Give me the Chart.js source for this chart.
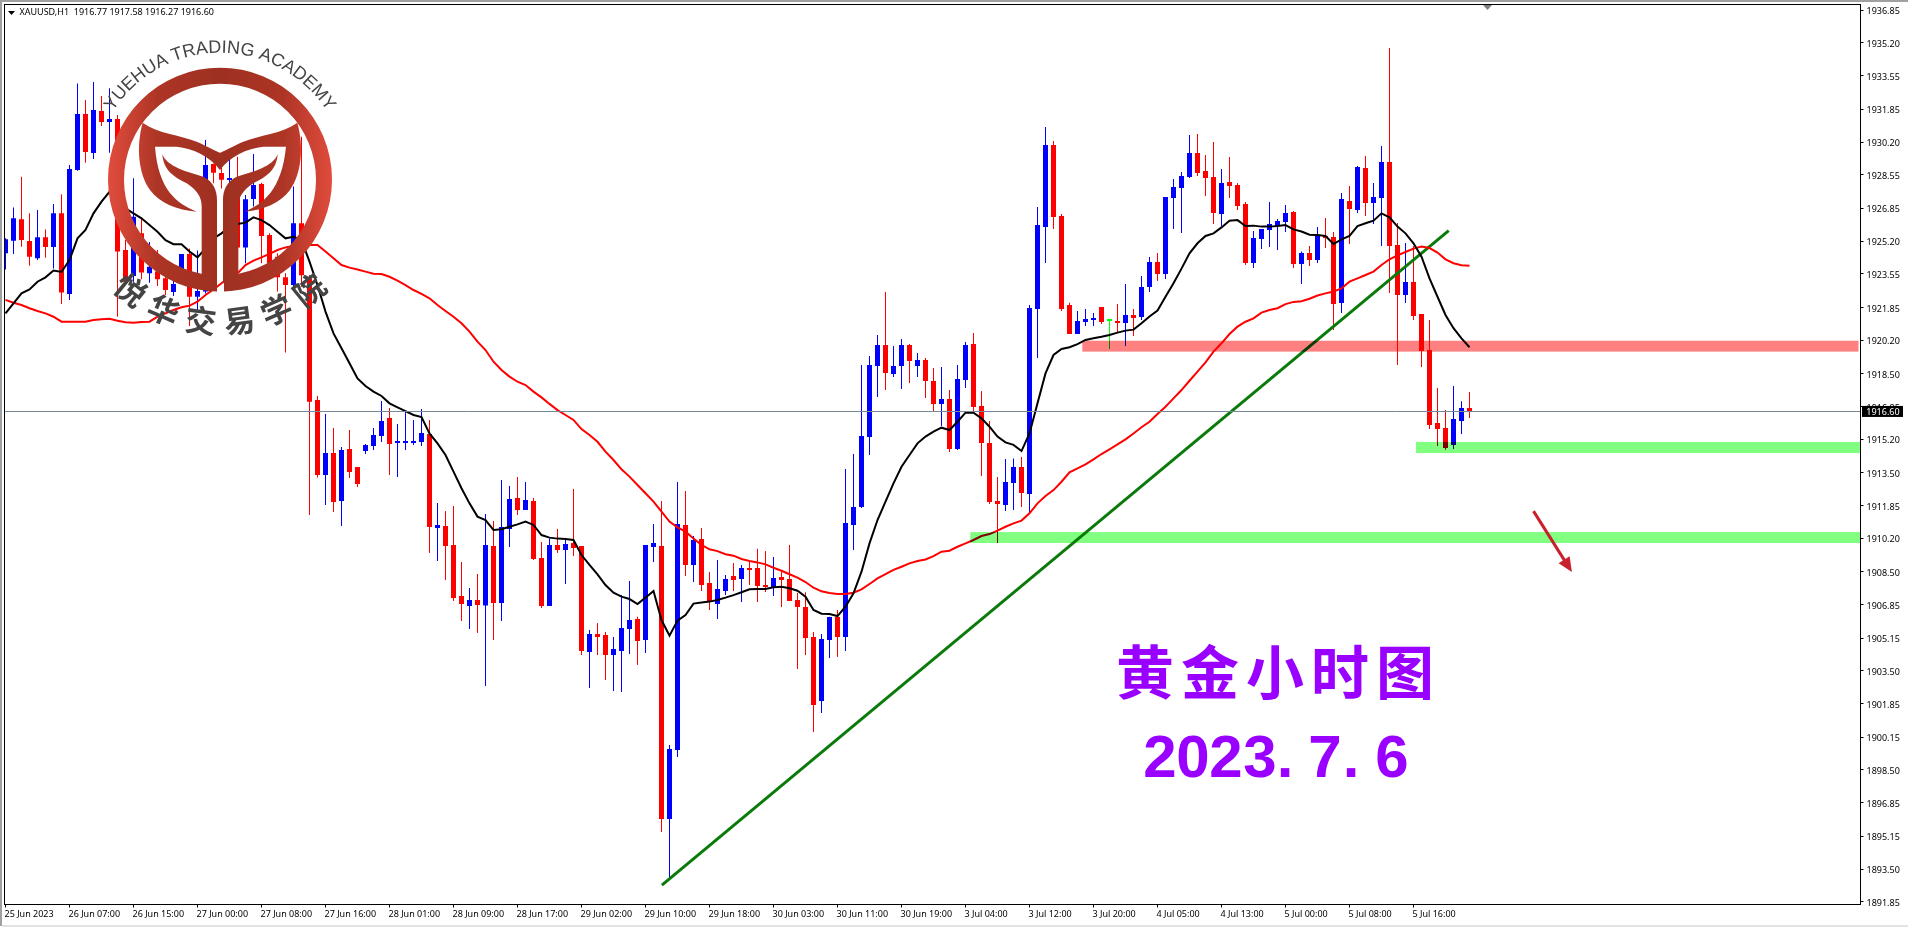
<!DOCTYPE html>
<html>
<head>
<meta charset="utf-8">
<title>XAUUSD,H1</title>
<style>
  html, body { margin: 0; padding: 0; background: #fff; overflow: hidden; }
  canvas { display: block; }
</style>
</head>
<body>
<canvas id="chart" width="1908" height="927"></canvas>
<script src="https://cdn.jsdelivr.net/npm/chart.js@4/dist/chart.umd.js"></script>
<script>
// price axis labels and time labels (one label every 8 bars)
const priceTicks = [1891.85,1893.50,1895.15,1896.85,1898.50,1900.15,1901.85,1903.50,1905.15,1906.85,1908.50,1910.20,1911.85,1913.50,1915.20,1916.85,1918.50,1920.20,1921.85,1923.55,1925.20,1926.85,1928.55,1930.20,1931.85,1933.55,1935.20,1936.85];
const timeLabels = ['25 Jun 2023','26 Jun 07:00','26 Jun 15:00','27 Jun 00:00','27 Jun 08:00','27 Jun 16:00','28 Jun 01:00','28 Jun 09:00','28 Jun 17:00','29 Jun 02:00','29 Jun 10:00','29 Jun 18:00','30 Jun 03:00','30 Jun 11:00','30 Jun 19:00','3 Jul 04:00','3 Jul 12:00','3 Jul 20:00','4 Jul 05:00','4 Jul 13:00','5 Jul 00:00','5 Jul 08:00','5 Jul 16:00'];
const lastPrice = 1916.60;

// candles
const openP = [
1924.58,1925.22,1926.30,1925.20,1924.33,1925.39,1924.90,1926.60,1922.53,1928.79,
1931.62,1929.65,1931.77,1931.21,1931.36,1924.75,1923.44,1925.59,1923.57,1923.66,
1923.32,1922.63,1923.74,1924.55,1922.39,1922.65,1929.09,1928.64,1928.28,1928.37,
1924.87,1927.33,1928.08,1925.51,1924.41,1923.37,1922.98,1926.10,1923.32,1917.18,
1913.39,1914.50,1912.08,1914.70,1913.80,1914.60,1914.86,1915.36,1916.27,1915.01,
1915.01,1915.01,1915.06,1915.46,1910.72,1910.82,1909.86,1907.28,1906.78,1907.08,
1906.80,1909.81,1906.93,1910.67,1912.23,1911.62,1912.08,1909.20,1906.78,1909.86,
1909.61,1909.96,1909.81,1904.46,1905.36,1905.31,1904.30,1904.51,1905.62,1906.12,
1905.06,1909.76,1909.81,1896.03,1899.51,1910.87,1908.85,1910.16,1907.94,1906.88,
1907.54,1908.29,1908.14,1908.70,1908.70,1907.84,1907.74,1908.24,1908.14,1907.08,
1906.73,1905.21,1901.98,1905.06,1906.22,1905.21,1910.87,1911.78,1915.31,1918.89,
1919.95,1918.49,1918.89,1919.95,1918.89,1919.20,1918.14,1916.98,1917.23,1914.70,
1918.19,1920.00,1916.87,1915.01,1912.08,1911.88,1912.99,1913.79,1912.43,1921.77,
1925.91,1930.05,1926.47,1921.97,1920.51,1921.12,1921.22,1921.87,1921.17,1921.17,
1921.07,1921.47,1921.37,1922.88,1924.14,1923.54,1927.37,1927.88,1928.44,1929.65,
1928.74,1928.44,1926.57,1928.18,1928.03,1927.07,1924.09,1925.31,1925.76,1925.96,
1926.16,1926.67,1924.04,1924.60,1924.25,1925.46,1925.41,1922.07,1927.22,1926.77,
1928.89,1927.12,1927.38,1929.19,1925.00,1922.48,1923.14,1921.52,1919.70,1916.02,
1915.76,1914.91,1916.12,1916.77];
const highP = [
1925.34,1926.90,1928.45,1926.60,1926.77,1925.79,1927.07,1927.56,1929.04,1933.16,
1932.32,1933.23,1932.52,1932.91,1931.56,1925.25,1928.37,1926.40,1925.15,1924.75,
1924.08,1923.74,1924.55,1924.83,1924.72,1930.30,1929.12,1929.12,1929.46,1929.46,
1927.53,1929.60,1928.15,1925.59,1924.58,1923.57,1927.95,1930.47,1923.49,1917.38,
1916.47,1915.76,1914.80,1915.66,1913.80,1914.96,1915.76,1917.13,1916.77,1915.97,
1916.62,1916.17,1916.72,1916.17,1911.98,1911.58,1911.83,1909.00,1907.69,1908.39,
1911.42,1911.07,1913.14,1912.84,1913.29,1913.04,1912.23,1910.01,1910.19,1910.66,
1910.11,1912.68,1909.81,1905.57,1905.92,1905.46,1905.21,1907.33,1908.04,1906.24,
1909.86,1910.92,1912.08,1899.76,1913.04,1912.58,1910.31,1910.72,1908.49,1909.10,
1908.34,1908.95,1908.85,1909.10,1909.67,1909.55,1909.25,1908.49,1909.86,1907.43,
1907.47,1905.46,1905.36,1906.24,1906.58,1913.69,1914.45,1918.94,1919.40,1920.46,
1922.63,1919.90,1920.26,1920.00,1919.55,1919.30,1918.79,1918.84,1917.68,1918.94,
1920.11,1920.56,1917.63,1916.12,1913.29,1914.20,1914.23,1914.30,1921.97,1926.92,
1930.96,1930.25,1926.57,1922.09,1921.67,1921.77,1921.57,1921.87,1921.27,1922.02,
1923.03,1921.77,1923.44,1924.40,1924.60,1927.43,1928.33,1928.69,1930.55,1930.60,
1929.55,1930.20,1928.84,1929.45,1928.13,1927.17,1925.71,1925.81,1927.17,1926.31,
1927.02,1926.72,1924.67,1924.95,1925.91,1926.37,1925.66,1927.63,1927.98,1928.99,
1929.50,1928.13,1930.00,1934.95,1926.11,1925.10,1924.95,1921.52,1921.22,1917.78,
1916.67,1917.88,1917.12,1917.58];
const lowP = [
1923.77,1924.55,1924.92,1923.96,1924.24,1924.36,1923.82,1922.02,1922.23,1928.75,
1929.16,1929.34,1931.01,1929.66,1921.38,1922.98,1923.15,1923.27,1923.10,1922.93,
1922.48,1922.43,1923.24,1920.91,1921.64,1922.56,1928.12,1927.86,1927.27,1924.60,
1924.08,1926.94,1924.08,1923.66,1922.65,1919.57,1922.90,1922.90,1911.37,1913.26,
1911.88,1911.52,1910.82,1913.24,1912.79,1914.45,1914.65,1915.06,1913.39,1913.29,
1914.65,1914.91,1914.86,1909.45,1909.05,1908.09,1907.03,1906.02,1905.62,1905.42,
1902.74,1905.06,1906.02,1909.76,1911.37,1911.62,1909.10,1906.68,1906.78,1909.45,
1907.89,1909.30,1904.30,1902.64,1904.30,1903.04,1902.49,1902.44,1904.36,1903.80,
1904.41,1909.00,1895.37,1893.03,1899.16,1908.29,1907.99,1907.54,1906.58,1906.12,
1907.33,1907.54,1906.98,1907.84,1906.98,1907.48,1907.28,1906.73,1907.03,1903.60,
1904.30,1900.42,1901.38,1904.15,1904.20,1904.51,1909.60,1911.73,1914.40,1917.33,
1917.68,1918.34,1917.73,1918.04,1918.34,1917.28,1916.62,1915.87,1914.55,1914.65,
1917.78,1916.57,1913.34,1911.93,1909.96,1911.57,1911.62,1911.78,1911.52,1919.30,
1924.09,1925.81,1921.67,1920.51,1920.51,1920.91,1920.91,1921.01,1919.75,1920.61,
1919.90,1920.41,1921.22,1922.63,1923.18,1923.28,1925.81,1925.61,1928.38,1928.49,
1927.48,1926.06,1925.96,1927.38,1926.77,1923.99,1923.84,1924.80,1924.90,1924.75,
1925.66,1923.84,1923.03,1923.94,1924.09,1924.85,1920.71,1921.57,1925.05,1926.62,
1926.47,1926.06,1924.95,1922.58,1918.95,1922.07,1921.22,1918.84,1915.71,1914.86,
1914.66,1914.71,1915.46,1916.27];
const closeP = [
1925.29,1926.35,1925.25,1924.41,1925.39,1924.90,1926.60,1922.60,1928.84,1931.62,
1929.70,1931.82,1931.21,1931.36,1924.67,1923.15,1926.43,1923.61,1923.91,1923.27,
1922.73,1923.03,1924.55,1922.39,1922.68,1929.04,1928.65,1928.30,1928.37,1924.87,
1927.31,1928.03,1925.46,1924.08,1923.37,1922.98,1926.10,1923.47,1917.09,1913.39,
1914.50,1912.03,1914.65,1913.54,1912.94,1914.91,1915.41,1916.12,1914.96,1915.06,
1915.11,1915.11,1915.51,1910.77,1910.87,1909.81,1907.18,1906.88,1907.08,1906.83,
1909.86,1906.93,1910.77,1912.18,1911.62,1912.13,1909.15,1906.78,1909.86,1909.61,
1909.91,1909.71,1904.51,1905.36,1905.21,1904.30,1904.61,1905.67,1906.07,1905.01,
1909.86,1909.96,1896.03,1899.56,1910.92,1908.85,1910.11,1907.84,1906.98,1907.64,
1908.14,1908.09,1908.70,1908.60,1907.79,1907.74,1908.19,1908.09,1907.03,1906.73,
1905.16,1901.78,1905.11,1906.22,1905.21,1910.97,1911.78,1915.36,1918.94,1919.95,
1918.54,1918.89,1919.95,1919.15,1919.20,1918.14,1916.98,1917.23,1914.70,1918.24,
1919.95,1916.82,1915.01,1912.03,1911.93,1913.04,1913.79,1912.48,1921.82,1926.01,
1930.05,1926.42,1921.77,1920.51,1921.17,1921.27,1921.27,1921.12,1921.17,1921.07,
1921.47,1921.32,1922.88,1924.14,1923.54,1927.43,1927.93,1928.49,1929.65,1928.64,
1928.38,1926.62,1928.13,1927.98,1926.97,1924.09,1925.36,1925.81,1926.06,1926.21,
1926.62,1924.04,1924.60,1924.25,1925.46,1925.36,1922.02,1927.32,1926.82,1928.94,
1927.12,1927.43,1929.19,1924.95,1922.48,1923.14,1921.42,1919.65,1915.92,1915.71,
1914.76,1916.22,1916.77,1916.60];

// fast (black) and slow (red) averages
const maBlack = [
1921.55,1922.06,1922.56,1922.76,1923.15,1923.37,1923.71,1923.64,1924.24,1925.34,
1925.76,1926.60,1927.19,1927.69,1927.44,1926.85,1926.60,1926.35,1926.01,1925.67,
1925.25,1925.04,1925.04,1924.67,1924.38,1924.83,1925.34,1925.59,1925.93,1926.06,
1926.13,1926.40,1926.26,1926.01,1925.67,1925.34,1925.42,1925.25,1924.16,1922.98,
1921.64,1920.54,1919.79,1919.03,1918.27,1917.88,1917.60,1917.38,1917.01,1916.81,
1916.62,1916.42,1916.32,1915.49,1914.99,1914.40,1913.56,1912.72,1911.96,1911.29,
1911.12,1910.62,1910.65,1910.78,1910.90,1911.04,1910.87,1910.36,1910.23,1910.18,
1910.16,1910.11,1909.35,1908.85,1908.38,1907.84,1907.45,1907.25,1907.13,1906.88,
1907.20,1907.54,1906.07,1905.28,1906.04,1906.32,1906.90,1906.96,1907.00,1907.08,
1907.20,1907.33,1907.47,1907.62,1907.64,1907.64,1907.72,1907.75,1907.67,1907.55,
1907.25,1906.58,1906.39,1906.37,1906.27,1906.74,1907.42,1908.51,1909.94,1911.12,
1912.05,1912.97,1913.81,1914.40,1914.99,1915.33,1915.58,1915.78,1915.66,1916.08,
1916.54,1916.54,1916.25,1915.83,1915.33,1915.04,1914.91,1914.60,1915.49,1917.01,
1918.52,1919.45,1919.75,1919.84,1920.00,1920.21,1920.29,1920.37,1920.46,1920.58,
1920.68,1920.73,1921.05,1921.39,1921.69,1922.39,1923.07,1923.81,1924.58,1925.09,
1925.46,1925.59,1925.89,1926.23,1926.26,1925.96,1925.98,1925.93,1925.93,1925.96,
1926.01,1925.79,1925.68,1925.52,1925.51,1925.46,1925.05,1925.29,1925.46,1925.96,
1926.10,1926.23,1926.60,1926.40,1925.93,1925.59,1925.09,1924.41,1923.32,1922.39,
1921.47,1920.80,1920.29,1919.84];
const maRed = [
1922.23,1922.09,1921.97,1921.81,1921.67,1921.55,1921.38,1921.13,1921.13,1921.13,
1921.13,1921.22,1921.25,1921.28,1921.18,1921.10,1921.08,1921.12,1921.13,1921.38,
1921.55,1921.72,1921.86,1921.94,1922.14,1922.48,1922.76,1923.07,1923.40,1923.57,
1923.99,1924.21,1924.38,1924.55,1924.75,1924.88,1924.95,1925.00,1925.00,1925.00,
1924.67,1924.33,1923.99,1923.86,1923.77,1923.66,1923.55,1923.54,1923.40,1923.20,
1922.98,1922.73,1922.53,1922.31,1921.97,1921.67,1921.38,1921.05,1920.63,1920.12,
1919.70,1919.11,1918.69,1918.36,1918.10,1917.93,1917.60,1917.31,1916.98,1916.67,
1916.42,1916.17,1915.71,1915.41,1915.07,1914.57,1914.15,1913.68,1913.31,1912.89,
1912.47,1912.05,1911.54,1911.04,1910.75,1910.53,1910.19,1909.86,1909.64,1909.55,
1909.39,1909.32,1909.15,1909.05,1908.98,1908.88,1908.71,1908.56,1908.38,1908.21,
1907.99,1907.70,1907.52,1907.43,1907.38,1907.38,1907.45,1907.62,1907.89,1908.17,
1908.39,1908.60,1908.76,1908.93,1909.05,1909.13,1909.30,1909.52,1909.57,1909.77,
1909.94,1910.11,1910.31,1910.41,1910.58,1910.78,1910.95,1911.09,1911.46,1911.96,
1912.33,1912.63,1913.05,1913.53,1913.73,1913.93,1914.18,1914.45,1914.69,1914.94,
1915.19,1915.49,1915.80,1916.08,1916.47,1916.84,1917.26,1917.68,1918.15,1918.61,
1919.08,1919.62,1920.04,1920.51,1920.88,1921.13,1921.30,1921.59,1921.72,1921.81,
1922.02,1922.13,1922.16,1922.29,1922.45,1922.56,1922.65,1922.81,1923.15,1923.32,
1923.49,1923.66,1923.99,1924.28,1924.48,1924.65,1924.82,1924.92,1924.85,1924.62,
1924.28,1924.08,1923.98,1923.96];

// trend line and the arrow (bar position, price)
const trendX = [82.05, 180.4];
const trendY = [1892.69, 1925.73];
const arrowX = [191, 195.8];
const arrowY = [1911.57, 1908.49];

// pink / green zones: first bar, top price, bottom price
const zoneStart = [134.6, 176.3, 120.6];
const zoneTop = [1920.17, 1915.06, 1910.51];
const zoneBottom = [1919.62, 1914.50, 1909.96];
const zoneColor = ['#ff8080', '#80ff80', '#80ff80'];

const bars = openP.map((v, i) => i);
const smallFont = '"Noto Sans", sans-serif';
const barColor = i => closeP[i] > openP[i] ? '#0000ff' : (closeP[i] < openP[i] ? '#ff0000' : '#00ff00');

// the academy logo sits on top of the candles, coords are 3x page pixels
function drawLogo(ctx) {
  ctx.save();
  ctx.scale(1 / 3, 1 / 3);
  const grad = ctx.createLinearGradient(324, 0, 998, 0);
  grad.addColorStop(0, '#e14c3d');
  grad.addColorStop(0.22, '#ad3525');
  grad.addColorStop(0.5, '#9e3021');
  grad.addColorStop(0.78, '#ad3525');
  grad.addColorStop(1, '#e14c3d');
  ctx.fillStyle = grad;

  ctx.save();
  const cut = new Path2D();
  cut.rect(0, 0, 1500, 1500);
  cut.rect(651, 590, 21, 400);
  ctx.clip(cut, 'evenodd');
  ctx.beginPath();
  ctx.arc(660, 539, 336, 0, Math.PI * 2);
  ctx.arc(660, 539, 288, 0, Math.PI * 2, true);
  ctx.fill();
  ctx.restore();

  const horns = new Path2D('M428,368 C470,400 540,405 590,425 C625,440 650,455 660,458 C670,455 695,440 730,425 C780,405 850,400 892,368 C912,440 905,520 870,570 C840,610 790,630 735,635 C790,610 845,570 858,440 L790,440 C740,445 690,470 660,510 C630,470 580,445 530,440 L465,440 C475,570 530,610 590,635 C530,630 480,610 450,570 C415,520 408,440 428,368 Z');
  ctx.fill(horns);
  const stem = new Path2D('M487,462 C500,500 560,515 610,530 C640,545 651,570 651,600 L651,850 L605,835 L605,620 C605,590 590,570 560,550 C520,530 490,510 487,462 Z');
  ctx.fill(stem);
  ctx.translate(1320, 0);
  ctx.scale(-1, 1);
  ctx.fill(stem);
  ctx.restore();

  // curved texts
  ctx.save();
  ctx.fillStyle = '#444';
  ctx.textAlign = 'center';
  ctx.textBaseline = 'alphabetic';
  ctx.font = '18px "Liberation Sans"';
  const name = 'YUEHUA TRADING ACADEMY';
  const total = ctx.measureText(name).width;
  const R = 127;
  let run = 0;
  for (const ch of name) {
    const w = ctx.measureText(ch).width;
    const a = (run + w / 2 - total / 2) / R;
    ctx.save();
    ctx.translate(220 + R * Math.sin(a), 179.7 - R * Math.cos(a));
    ctx.rotate(a);
    ctx.fillText(ch, 0, 0);
    ctx.restore();
    run += w;
  }
  ctx.font = 'bold 31px "Noto Sans CJK SC"';
  ctx.textBaseline = 'middle';
  const cn = '悦华交易学院';
  [...cn].forEach((ch, k) => {
    const a = (2.5 - k) * 15.6 * Math.PI / 180;
    ctx.save();
    ctx.translate(220 - 142 * Math.sin(a), 179.7 + 142 * Math.cos(a));
    ctx.rotate(a);
    ctx.fillText(ch, 0, 0);
    ctx.restore();
  });
  ctx.restore();
}

const overlay = {
  id: 'overlay',
  beforeDraw(chart) {
    const ctx = chart.ctx;
    ctx.save();
    ctx.fillStyle = '#fff';
    ctx.fillRect(0, 0, chart.width, chart.height);
    ctx.restore();
  },
  afterDatasetsDraw(chart) {
    const ctx = chart.ctx, x = chart.scales.x, y = chart.scales.y, area = chart.chartArea;
    ctx.save();
    ctx.beginPath();
    ctx.rect(area.left, area.top, area.right - area.left, area.bottom - area.top);
    ctx.clip();

    // zones multiply over whatever is below them
    ctx.globalCompositeOperation = 'multiply';
    zoneStart.forEach((s, k) => {
      const left = x.getPixelForValue(s), top = y.getPixelForValue(zoneTop[k]);
      ctx.fillStyle = zoneColor[k];
      ctx.fillRect(left, top, area.right - left - (k === 0 ? 2 : 0), y.getPixelForValue(zoneBottom[k]) - top);
    });
    ctx.globalCompositeOperation = 'source-over';

    // current price line
    const py = Math.round(y.getPixelForValue(lastPrice)) + 0.5;
    ctx.strokeStyle = '#778899';
    ctx.lineWidth = 1;
    ctx.beginPath();
    ctx.moveTo(area.left, py);
    ctx.lineTo(area.right, py);
    ctx.stroke();

    // arrow
    const ax0 = x.getPixelForValue(arrowX[0]), ay0 = y.getPixelForValue(arrowY[0]);
    const ax1 = x.getPixelForValue(arrowX[1]), ay1 = y.getPixelForValue(arrowY[1]);
    const ang = Math.atan2(ay1 - ay0, ax1 - ax0);
    ctx.strokeStyle = ctx.fillStyle = '#c8202c';
    ctx.lineWidth = 3;
    ctx.beginPath();
    ctx.moveTo(ax0, ay0);
    ctx.lineTo(ax1 - 8 * Math.cos(ang), ay1 - 8 * Math.sin(ang));
    ctx.stroke();
    ctx.beginPath();
    ctx.moveTo(ax1, ay1);
    ctx.lineTo(ax1 - 16 * Math.cos(ang - 0.42), ay1 - 16 * Math.sin(ang - 0.42));
    ctx.lineTo(ax1 - 16 * Math.cos(ang + 0.42), ay1 - 16 * Math.sin(ang + 0.42));
    ctx.closePath();
    ctx.fill();
    ctx.restore();

    drawLogo(ctx);

    // big purple caption
    ctx.save();
    ctx.fillStyle = '#9900ff';
    ctx.textAlign = 'center';
    ctx.textBaseline = 'middle';
    ctx.font = 'bold 58px "Noto Sans CJK SC"';
    [...'黄金小时图'].forEach((ch, k) => ctx.fillText(ch, 1145 + 65 * k, 672));
    ctx.textBaseline = 'alphabetic';
    ctx.font = 'bold 60px "Liberation Sans"';
    const dateX = [1160, 1193, 1226, 1260, 1285, 1325, 1351, 1392];
    [...'2023.7.6'].forEach((ch, k) => ctx.fillText(ch, dateX[k], 777));
    ctx.restore();
  },
  afterDraw(chart) {
    const ctx = chart.ctx, y = chart.scales.y, area = chart.chartArea;
    ctx.save();
    // window edges
    ctx.fillStyle = '#a0a0a0';
    ctx.fillRect(0, 0, chart.width, 2);
    ctx.fillRect(0, 0, 2, 926);
    ctx.fillStyle = '#e2e2e2';
    ctx.fillRect(2, 925, chart.width - 2, 2);

    // chart frame
    ctx.strokeStyle = '#000';
    ctx.lineWidth = 1;
    ctx.strokeRect(area.left, area.top, area.right - area.left, area.bottom - area.top);

    // header with symbol and last bar values
    ctx.fillStyle = '#000';
    ctx.beginPath();
    ctx.moveTo(8, 11);
    ctx.lineTo(15, 11);
    ctx.lineTo(11.5, 15);
    ctx.closePath();
    ctx.fill();
    const last = openP.length - 1;
    ctx.font = '9px ' + smallFont;
    ctx.textBaseline = 'middle';
    ctx.textAlign = 'left';
    ctx.fillText('XAUUSD,H1  ' + [openP[last], highP[last], lowP[last], closeP[last]].map(v => v.toFixed(2)).join(' '), 19.5, 12.5);

    // chart shift marker
    ctx.fillStyle = '#808080';
    ctx.beginPath();
    ctx.moveTo(1483, 5);
    ctx.lineTo(1492, 5);
    ctx.lineTo(1487.5, 10);
    ctx.closePath();
    ctx.fill();

    // price tag
    const py = y.getPixelForValue(lastPrice);
    ctx.fillStyle = '#000';
    ctx.fillRect(1862, py - 5.5, 41, 11);
    ctx.fillStyle = '#fff';
    ctx.fillText(lastPrice.toFixed(2), 1866.3, py + 0.5);
    ctx.restore();
  }
};

new Chart(document.getElementById('chart'), {
  type: 'bar',
  plugins: [overlay],
  data: {
    datasets: [
      { type: 'line', data: bars.map(i => ({ x: i, y: maBlack[i] })), borderColor: '#000', borderWidth: 2, pointRadius: 0, tension: 0, order: 1 },
      { type: 'line', data: bars.map(i => ({ x: i, y: maRed[i] })), borderColor: '#ff0000', borderWidth: 2, pointRadius: 0, tension: 0, order: 1 },
      { type: 'line', data: trendX.map((v, k) => ({ x: v, y: trendY[k] })), borderColor: '#0a7a0a', borderWidth: 3, pointRadius: 0, tension: 0, order: 1 },
      { data: bars.map(i => ({ x: i, y: [openP[i], closeP[i]] })), backgroundColor: bars.map(barColor), barThickness: 5, minBarLength: 2, inflateAmount: 0, grouped: false, order: 2 },
      { data: bars.map(i => ({ x: i, y: [lowP[i], highP[i]] })), backgroundColor: bars.map(barColor), barThickness: 1, inflateAmount: 0, grouped: false, order: 3 }
    ]
  },
  options: {
    responsive: false,
    animation: false,
    devicePixelRatio: 1,
    layout: { padding: { left: 4.5, top: 4.5, right: 0, bottom: 0 } },
    plugins: { legend: { display: false }, tooltip: { enabled: false } },
    scales: {
      x: {
        type: 'linear',
        offset: false,
        min: -0.125,
        max: 231.875,
        grid: { drawOnChartArea: false, offset: false, color: '#000', tickLength: 3 },
        border: { display: false },
        afterFit(scale) { scale.height = 22.5; scale.paddingLeft = 0; scale.paddingRight = 0; },
        afterBuildTicks(scale) { scale.ticks = timeLabels.map((t, k) => ({ value: k * 8 })); },
        ticks: {
          align: 'start',
          autoSkip: false,
          maxRotation: 0,
          padding: 2,
          labelOffset: -1,
          color: '#000',
          font: { family: smallFont, size: 9 },
          callback: (v) => timeLabels[v / 8]
        }
      },
      y: {
        position: 'right',
        min: 1891.71,
        max: 1937.143,
        grid: { drawOnChartArea: false, color: '#000', tickLength: 3 },
        border: { display: false },
        afterFit(scale) { scale.width = 47.5; scale.paddingTop = 0; scale.paddingBottom = 0; },
        afterBuildTicks(scale) { scale.ticks = priceTicks.map(v => ({ value: v })); },
        ticks: {
          autoSkip: false,
          padding: 3,
          labelOffset: 1.5,
          color: '#000',
          font: { family: smallFont, size: 9 },
          callback: v => v.toFixed(2)
        }
      }
    }
  }
});
</script>
</body>
</html>
